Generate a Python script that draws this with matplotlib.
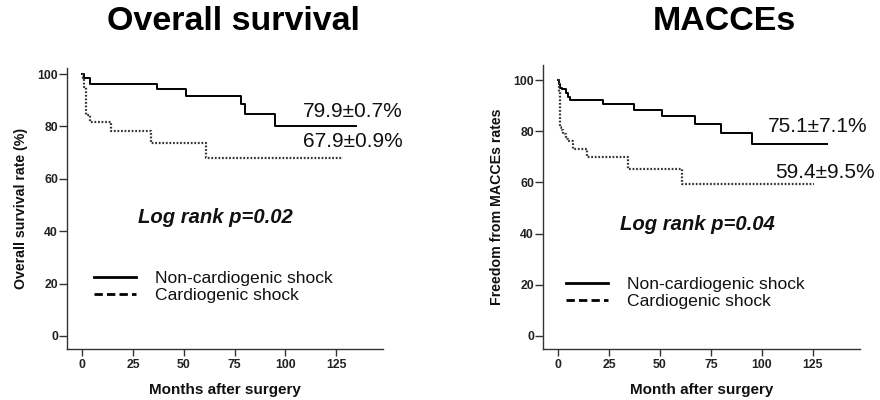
import matplotlib
matplotlib.use("Agg")
import matplotlib.pyplot as plt
from matplotlib.lines import Line2D

plt.rcParams['font.family'] = ['Liberation Sans', 'DejaVu Sans']

# ---- data ----
os_non_t = [0, 1, 4, 37, 51, 78, 80, 95, 135]
os_non_s = [100, 98.5, 96.2, 94.1, 91.7, 88.6, 84.7, 80.0, 80.0]
os_cs_t = [0, 0.3, 1, 2, 4, 14, 34, 61, 128.5]
os_cs_s = [100, 98.5, 95, 84.5, 81.8, 78.3, 73.8, 68.0, 68.0]

mac_non_t = [0, 0.5, 1, 2, 4, 5, 6, 22, 37, 51, 67, 80, 95, 132]
mac_non_s = [100, 98.5, 97, 96.5, 95, 93.5, 92.1, 90.5, 88.2, 85.8, 83.0, 79.5, 75.1, 75.1]
mac_cs_t = [0, 0.3, 1, 1.5, 2.5, 4, 5, 7, 14, 34.5, 61, 125.5]
mac_cs_s = [100, 95.5, 81.8, 80.5, 79, 77, 76.3, 73.2, 69.8, 65.3, 59.4, 59.4]

x_ticks = [0, 25, 50, 75, 100, 125]
y_ticks = [0, 20, 40, 60, 80, 100]
groups = ["Non-cardiogenic shock", "Cardiogenic shock"]

titles = ["Overall survival", "MACCEs"]
xlabels = ["Months after surgery", "Month after surgery"]
ylabels = ["Overall survival rate (%)", "Freedom from MACCEs rates"]
rates_os = ["79.9\u00b10.7%", "67.9\u00b10.9%"]
rates_mac = ["75.1\u00b17.1%", "59.4\u00b19.5%"]
pvals = ["Log rank p=0.02", "Log rank p=0.04"]

TXT = '#111111'

fig = plt.figure(figsize=(8.8, 4.0), dpi=100)
axL = fig.add_axes([67/880, 51/400, (383-67)/880, (349-68)/400])
axR = fig.add_axes([543/880, 51/400, (860-543)/880, (349-65)/400])


def style(ax, xlim, ylim, xlabel, ylabel):
    ax.set_xlim(*xlim)
    ax.set_ylim(*ylim)
    ax.set_xticks(x_ticks)
    ax.set_yticks(y_ticks)
    for s in ['top', 'right']:
        ax.spines[s].set_visible(False)
    for s in ['left', 'bottom']:
        ax.spines[s].set_color('#333333')
        ax.spines[s].set_linewidth(1.0)
    ax.tick_params(axis='y', direction='out', length=6, width=1.0, pad=0.5,
                   colors='#333333', labelsize=8.8)
    ax.tick_params(axis='x', direction='out', length=5, width=1.0, pad=2.5,
                   colors='#333333', labelsize=8.8)
    for lab in ax.get_xticklabels() + ax.get_yticklabels():
        lab.set_fontweight('bold')
        lab.set_color('#222222')
    ax.set_xlabel(xlabel, fontsize=11, fontweight='bold', color=TXT, labelpad=8)
    ax.set_ylabel(ylabel, fontsize=10.2, fontweight='bold', color=TXT, labelpad=7)


def km(ax, t1, s1, t2, s2):
    ax.plot(t1, s1, drawstyle='steps-post', color='black', lw=1.4)
    ax.plot(t2, s2, drawstyle='steps-post', color='#333333', lw=1.6,
            linestyle=(0, (0.8, 0.8)))


# left panel
km(axL, os_non_t, os_non_s, os_cs_t, os_cs_s)
style(axL, (-7.5, 148.1), (-5.0, 102.3), xlabels[0], ylabels[0])
axL.text(108.7, 85.5, rates_os[0], fontsize=15, color=TXT, va='center', ha='left')
axL.text(108.7, 74.4, rates_os[1], fontsize=15, color=TXT, va='center', ha='left')
axL.text(27.4, 45.4, pvals[0], fontsize=14.6, fontweight='bold', fontstyle='italic',
         color=TXT, va='center', ha='left')

# right panel
km(axR, mac_non_t, mac_non_s, mac_cs_t, mac_cs_s)
style(axR, (-7.5, 148.3), (-5.1, 105.9), xlabels[1], ylabels[1])
axR.text(103.0, 82.0, rates_mac[0], fontsize=15, color=TXT, va='center', ha='left')
axR.text(106.4, 63.7, rates_mac[1], fontsize=15, color=TXT, va='center', ha='left')
axR.text(30.3, 43.4, pvals[1], fontsize=14.6, fontweight='bold', fontstyle='italic',
         color=TXT, va='center', ha='left')

handles = [Line2D([], [], color='black', lw=2.0),
           Line2D([], [], color='black', lw=2.0, linestyle=(0, (3, 1.5)))]
for ax, bx, by in [(axL, 0.085, 0.222), (axR, 0.073, 0.197)]:
    leg = ax.legend(handles, groups, loc='center left', bbox_to_anchor=(bx, by),
                    frameon=False, fontsize=12.6, handlelength=2.4,
                    handletextpad=1.1, labelspacing=0.1, borderpad=0,
                    borderaxespad=0)
    for t in leg.get_texts():
        t.set_color(TXT)

fig.text(233.5/880, 1-22/400, titles[0], fontsize=24.5, fontweight='bold',
         ha='center', va='center', color='black')
fig.text(724.5/880, 1-22/400, titles[1], fontsize=24.5, fontweight='bold',
         ha='center', va='center', color='black')

fig.savefig('out.png', dpi=100, facecolor='white')
